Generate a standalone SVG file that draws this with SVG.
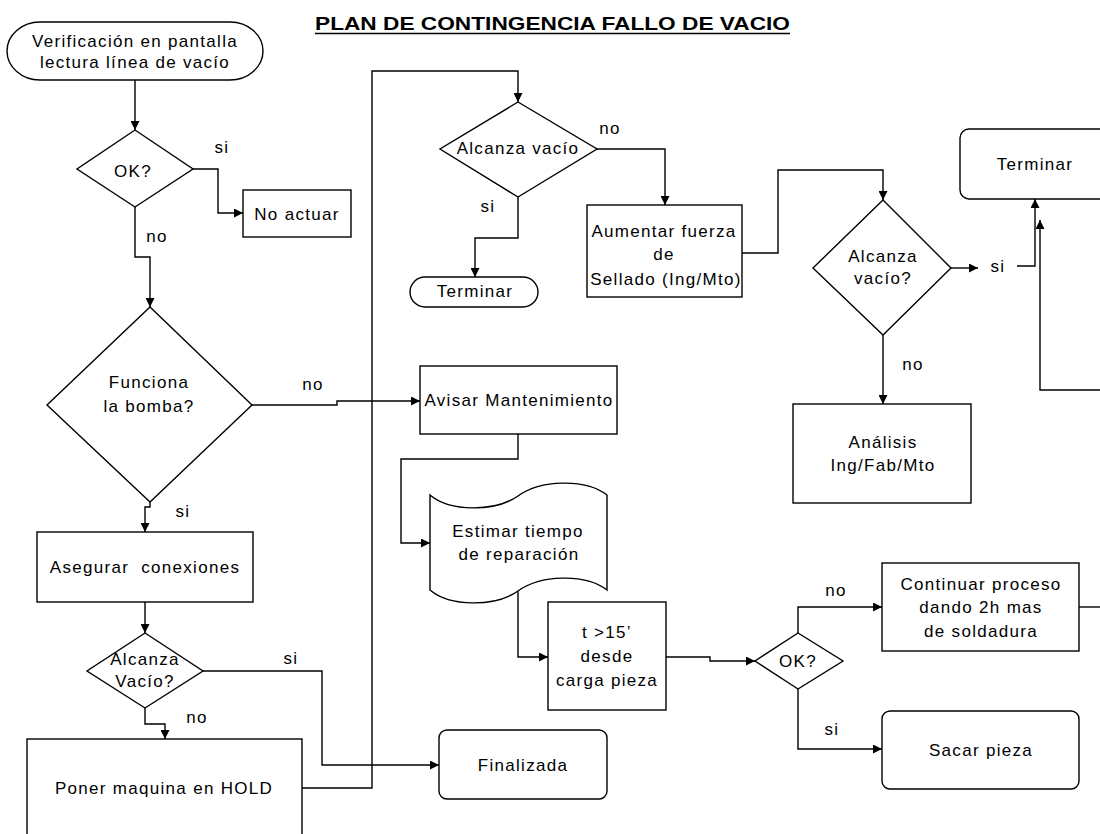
<svg xmlns="http://www.w3.org/2000/svg" width="1100" height="834" viewBox="0 0 1100 834">
  <defs>
    <marker id="arr" viewBox="0 0 10 10" refX="10" refY="5" markerWidth="9" markerHeight="9" markerUnits="userSpaceOnUse" orient="auto">
      <path d="M0,0 L10,5 L0,10 z" fill="#000"/>
    </marker>
    <style>
      .shape { fill: #fff; stroke: #000; stroke-width: 1.4; }
      .conn { fill: none; stroke: #000; stroke-width: 1.4; }
      .arrow { marker-end: url(#arr); }
      text { font-family: "Liberation Sans", Arial, sans-serif; font-size: 17px; letter-spacing: 1.3px; fill: #000; text-anchor: middle; }
      .title { font-size: 19px; font-weight: bold; letter-spacing: 0; text-anchor: start; }
    </style>
  </defs>
  <rect width="1100" height="834" fill="#fff"/>

  <!-- heading -->
  <g id="title">
    <text class="title" x="315" y="30" textLength="475" lengthAdjust="spacingAndGlyphs">PLAN DE CONTINGENCIA FALLO DE VACIO</text>
    <line x1="315" y1="33.5" x2="790" y2="33.5" stroke="#000" stroke-width="1.6"/>
  </g>

  <!-- connectors -->
  <g id="connectors">
    <path class="conn arrow" d="M135,80 V130"/>
    <path class="conn arrow" d="M193,169 H218 V213 H243"/>
    <path class="conn arrow" d="M135,207 V257 H150 V307"/>
    <path class="conn arrow" d="M252,405 H337 V401 H420"/>
    <path class="conn arrow" d="M150,502 V507 H145 V532"/>
    <path class="conn arrow" d="M145,602 V633"/>
    <path class="conn arrow" d="M203,671 H322 V765 H439"/>
    <path class="conn arrow" d="M145,708 V724 H165 V739"/>
    <path class="conn arrow" d="M302,788 H372 V71 H518 V102"/>
    <path class="conn arrow" d="M597,149 H665 V205"/>
    <path class="conn arrow" d="M518,197 V238 H475 V277"/>
    <path class="conn arrow" d="M742,253 H778 V170 H883 V200"/>
    <path class="conn arrow" d="M951,268 H978"/>
    <path class="conn arrow" d="M1017,266 H1035 V199"/>
    <path class="conn arrow" d="M1100,390 H1040 V220"/>
    <path class="conn arrow" d="M883,335 V404"/>
    <path class="conn arrow" d="M518,434 V459 H401 V543 H430"/>
    <path class="conn arrow" d="M518,591 V657 H548"/>
    <path class="conn arrow" d="M666,657 H710 V661 H755"/>
    <path class="conn arrow" d="M798,633 V607 H882"/>
    <path class="conn arrow" d="M798,689 V749 H882"/>
    <path class="conn" d="M1079,607 H1100"/>
    <!-- branch labels -->
    <text x="222" y="153">si</text>
    <text x="157" y="242">no</text>
    <text x="313" y="390">no</text>
    <text x="183" y="517">si</text>
    <text x="291" y="664">si</text>
    <text x="197" y="723">no</text>
    <text x="610" y="134">no</text>
    <text x="488" y="212">si</text>
    <text x="998" y="272">si</text>
    <text x="913" y="370">no</text>
    <text x="836" y="596">no</text>
    <text x="832" y="735">si</text>
  </g>

  <g id="start">
    <rect class="shape" x="7" y="22" width="256" height="58" rx="33" ry="29"/>
    <text x="135" y="47">Verificación en pantalla</text>
    <text x="135" y="68">lectura línea de vacío</text>
  </g>

  <g id="ok-check">
    <polygon class="shape" points="135,130 193,169 135,207 77,169"/>
    <text x="133" y="177">OK?</text>
  </g>

  <g id="no-actuar">
    <rect class="shape" x="243" y="190" width="108" height="47"/>
    <text x="297" y="220">No actuar</text>
  </g>

  <g id="funciona-bomba">
    <polygon class="shape" points="150,307 252,405 150,502 47,405"/>
    <text x="149" y="388">Funciona</text>
    <text x="149" y="412">la bomba?</text>
  </g>

  <g id="avisar">
    <rect class="shape" x="420" y="366" width="197" height="68"/>
    <text x="519" y="406">Avisar Mantenimiento</text>
  </g>

  <g id="asegurar">
    <rect class="shape" x="37" y="532" width="216" height="70"/>
    <text x="145" y="573" xml:space="preserve">Asegurar  conexiones</text>
  </g>

  <g id="alcanza-vacio-bomba">
    <polygon class="shape" points="145,633 203,671 145,708 87,671"/>
    <text x="145" y="665">Alcanza</text>
    <text x="145" y="687">Vacío?</text>
  </g>

  <g id="poner-hold">
    <rect class="shape" x="27" y="739" width="275" height="130"/>
    <text x="164" y="794">Poner maquina en HOLD</text>
  </g>

  <g id="finalizada">
    <rect class="shape" x="439" y="730" width="168" height="69" rx="8"/>
    <text x="523" y="771">Finalizada</text>
  </g>

  <g id="alcanza-vacio-hold">
    <polygon class="shape" points="518,102 597,149 518,197 440,149"/>
    <text x="518" y="154">Alcanza vacío</text>
  </g>

  <g id="terminar-1">
    <rect class="shape" x="410" y="277" width="128" height="30" rx="15" ry="15"/>
    <text x="475" y="297">Terminar</text>
  </g>

  <g id="aumentar-fuerza">
    <rect class="shape" x="587" y="205" width="155" height="92"/>
    <text x="664" y="237">Aumentar fuerza</text>
    <text x="664" y="260">de</text>
    <text x="666" y="285">Sellado (Ing/Mto)</text>
  </g>

  <g id="alcanza-vacio-sellado">
    <polygon class="shape" points="883,200 951,268 883,335 813,268"/>
    <text x="883" y="262">Alcanza</text>
    <text x="883" y="284">vacío?</text>
  </g>

  <g id="terminar-2">
    <rect class="shape" x="960" y="129" width="170" height="70" rx="9"/>
    <text x="1035" y="170">Terminar</text>
  </g>

  <g id="analisis">
    <rect class="shape" x="793" y="404" width="178" height="99"/>
    <text x="883" y="448">Análisis</text>
    <text x="883" y="471">Ing/Fab/Mto</text>
  </g>

  <g id="estimar-tiempo">
    <path class="shape" d="M430,495 C450,512 495,512 518,496 C540,480 585,478 607,495 V590 C585,573 540,575 518,591 C495,607 450,607 430,590 Z"/>
    <text x="518" y="537">Estimar tiempo</text>
    <text x="519" y="560">de reparación</text>
  </g>

  <g id="tiempo-15">
    <rect class="shape" x="548" y="602" width="118" height="108"/>
    <text x="607" y="638">t &gt;15’</text>
    <text x="607" y="662">desde</text>
    <text x="607" y="686">carga pieza</text>
  </g>

  <g id="ok-tiempo">
    <polygon class="shape" points="798,633 843,661 798,689 755,661"/>
    <text x="798" y="667">OK?</text>
  </g>

  <g id="continuar">
    <rect class="shape" x="882" y="563" width="197" height="88"/>
    <text x="981" y="590">Continuar proceso</text>
    <text x="981" y="613">dando 2h mas</text>
    <text x="981" y="637">de soldadura</text>
  </g>

  <g id="sacar-pieza">
    <rect class="shape" x="882" y="711" width="197" height="78" rx="8"/>
    <text x="981" y="756">Sacar pieza</text>
  </g>
</svg>
